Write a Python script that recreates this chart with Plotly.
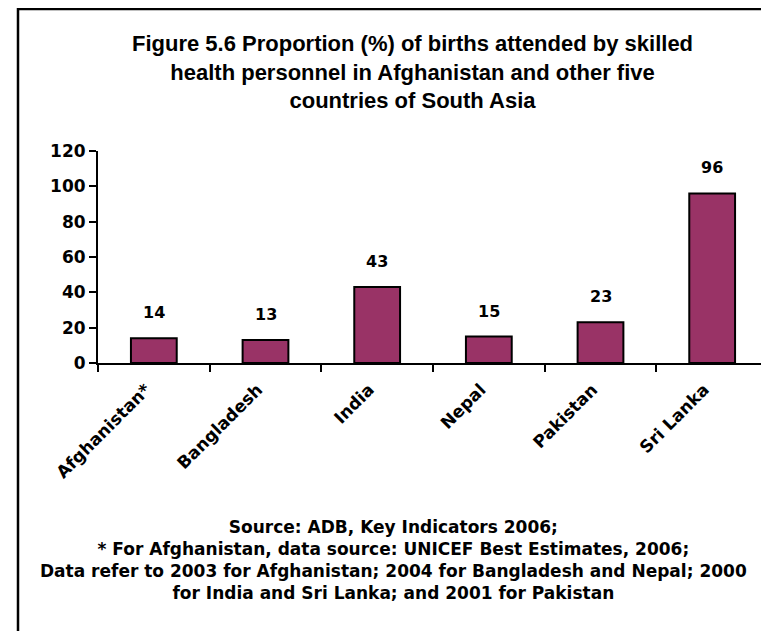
import plotly.graph_objects as go

countries = ["Afghanistan*", "Bangladesh", "India", "Nepal", "Pakistan", "Sri Lanka"]
values = [14, 13, 43, 15, 23, 96]
y_ticks = [0, 20, 40, 60, 80, 100, 120]

title_text = ("Figure 5.6 Proportion (%) of births attended by skilled<br>"
              "health personnel in Afghanistan and other five<br>"
              "countries of South Asia")
source_text = ("Source: ADB, Key Indicators 2006;<br>"
               "* For Afghanistan, data source: UNICEF Best Estimates, 2006;<br>"
               "Data refer to 2003 for Afghanistan; 2004 for Bangladesh and Nepal; 2000<br>"
               "for India and Sri Lanka; and 2001 for Pakistan")

OFF = 8  # page body margin
W, H = 769, 631
L, T = 98 - OFF, 151 - OFF
pw, ph = 670, 212
R = W - L - pw
B = H - T - ph

def px(x):
    return (x - OFF - L) / pw

def py(y):
    return (H - B - (y - OFF)) / ph

font = "Arial, Liberation Sans, sans-serif"
wide = "DejaVu Sans, sans-serif"

fig = go.Figure()
fig.add_trace(go.Bar(
    x=countries, y=values, width=0.41,
    marker=dict(color="#993366", line=dict(color="black", width=2)),
    hoverinfo="skip",
))

annotations = []
for c, v in zip(countries, values):
    annotations.append(dict(x=c, y=v, xref="x", yref="y", text=f"<b>{v}</b>",
                            showarrow=False, yanchor="bottom", yshift=14,
                            font=dict(size=16, color="black", family=wide)))
annotations.append(dict(x=px(412), y=py(72), xref="paper", yref="paper",
                        text=f"<b>{title_text}</b>", showarrow=False,
                        xanchor="center", yanchor="middle", align="center",
                        font=dict(size=22, color="black", family=font)))
annotations.append(dict(x=px(393), y=py(560), xref="paper", yref="paper",
                        text=f"<b>{source_text}</b>", showarrow=False,
                        xanchor="center", yanchor="middle", align="center",
                        font=dict(size=17, color="black", family=wide)))

fig.update_layout(
    width=W, height=H,
    margin=dict(l=L, r=R, t=T, b=B, pad=0),
    paper_bgcolor="white", plot_bgcolor="white",
    showlegend=False,
    annotations=annotations,
    shapes=[dict(type="rect", xref="paper", yref="paper",
                 x0=px(18), x1=px(900), y0=py(900), y1=py(9),
                 line=dict(color="black", width=2.5), fillcolor="rgba(0,0,0,0)",
                 layer="below")],
    xaxis=dict(showline=True, linecolor="black", linewidth=2,
               ticks="outside", tickson="boundaries", ticklen=7, tickwidth=2, tickcolor="black",
               tickangle=-45, showgrid=False, ticklabelstandoff=8, ticklabelshift=-8,
               tickfont=dict(size=17, color="black", family=wide, weight="bold")),
    yaxis=dict(range=[0, 120], tickvals=y_ticks, showline=True, linecolor="black", linewidth=2,
               ticks="outside", ticklen=7, tickwidth=2, tickcolor="black",
               showgrid=False, zeroline=False,
               tickfont=dict(size=17, color="black", family=wide, weight="bold")),
)

fig.write_html("out.html")
